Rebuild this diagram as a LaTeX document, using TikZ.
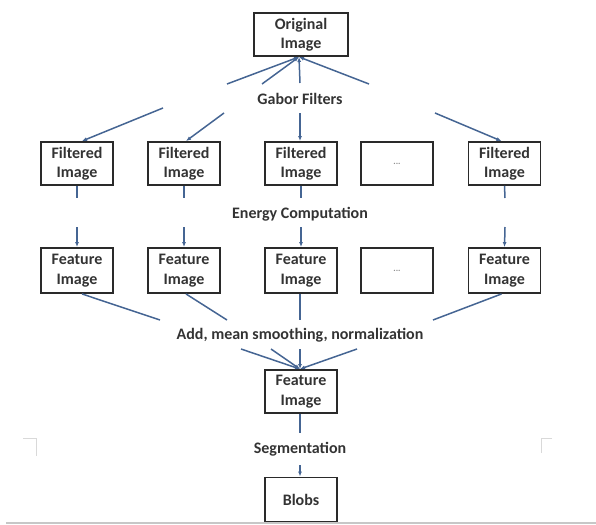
\documentclass[tikz,border=0pt]{standalone}
\usepackage{fontspec}
\setmainfont{Carlito}
\usetikzlibrary{arrows.meta,calc}
\definecolor{conn}{HTML}{456593}
\definecolor{txt}{HTML}{333333}
\definecolor{boxline}{HTML}{2A2A2A}
\begin{document}
\begin{tikzpicture}[x=1pt,y=-1pt,
  box/.style={draw=boxline,line width=1.9pt,minimum width=72pt,minimum height=43pt,
    inner sep=0pt,align=center,text=txt,font=\fontsize{16}{19.5}\selectfont\bfseries},
  dots/.style={box,font=\fontsize{9}{10}\selectfont\bfseries,text=black!45},
  lbl/.style={inner sep=0pt,text=txt,font=\fontsize{16}{19.5}\selectfont\bfseries},
  conline/.style={draw=conn,line width=1.5pt},
  conarrow/.style={conline,-{Latex[length=5pt,width=4pt]}},
  faint/.style={draw=black!15,line width=1.2pt}]
\useasboundingbox (0,0) rectangle (596,524);
% nodes
\node[box,minimum width=94pt] (orig) at (301,34.5) {Original\\Image};
\node[lbl] (gabor) at (300,99) {Gabor Filters};
\node[box] (f1) at (77,163.5) {Filtered\\Image};
\node[box] (f2) at (184,163.5) {Filtered\\Image};
\node[box] (f3) at (301,163.5) {Filtered\\Image};
\node[dots] (f4) at (397,163.5) {...};
\node[box] (f5) at (504.5,163.5) {Filtered\\Image};
\node[lbl] (energy) at (300,214) {Energy Computation};
\node[box,minimum height=45pt] (e1) at (77,270.5) {Feature\\Image};
\node[box,minimum height=45pt] (e2) at (184,270.5) {Feature\\Image};
\node[box,minimum height=45pt] (e3) at (301,270.5) {Feature\\Image};
\node[dots,minimum height=45pt] (e4) at (397,270.5) {...};
\node[box,minimum height=45pt] (e5) at (504.5,270.5) {Feature\\Image};
\node[lbl] (add) at (300,335) {Add, mean smoothing, normalization};
\node[box] (fin) at (301,391.5) {Feature\\Image};
\node[lbl] (seg) at (300,449) {Segmentation};
\node[box,minimum height=44pt] (blobs) at (301,499.5) {Blobs};
% free ends
\coordinate (ga1) at (227,84);
\coordinate (ga2) at (262,84);
\coordinate (ga3) at (300,83);
\coordinate (ga4) at (369,84);
\coordinate (gb1) at (163,108);
\coordinate (gb2) at (224,113);
\coordinate (gb3) at (300,113);
\coordinate (gb5) at (435,113);
\coordinate (ea1) at (77,198);
\coordinate (ea2) at (184,198);
\coordinate (ea3) at (301,198);
\coordinate (ea5) at (505,198);
\coordinate (eb1) at (77,227);
\coordinate (eb2) at (184,227);
\coordinate (eb3) at (301,227);
\coordinate (eb5) at (505,227);
\coordinate (aa1) at (160,320);
\coordinate (aa2) at (227,320);
\coordinate (aa3) at (300,320);
\coordinate (aa5) at (433,320);
\coordinate (ab1) at (241,349);
\coordinate (ab2) at (271,349);
\coordinate (ab3) at (300,349);
\coordinate (ab4) at (357,349);
\coordinate (sa) at (300,433);
\coordinate (sb) at (300,465);
% connectors: Gabor filters
\foreach \c in {ga1,ga2,ga3,ga4}
  \draw[conarrow] (\c) -- ($(orig.south)+(-2,0)$);
\draw[conarrow] (gb1) -- ($(f1.north)+(5,0)$);
\draw[conarrow] (gb2) -- ($(f2.north)+(2,0)$);
\draw[conarrow] (gb3) -- ($(f3.north)+(-1,0)$);
\draw[conarrow] (gb5) -- ($(f5.north)+(-3,0)$);
% energy computation
\draw[conline] (f1.south) -- (ea1);
\draw[conline] (f2.south) -- (ea2);
\draw[conline] (f3.south) -- (ea3);
\draw[conline] (f5.south) -- (ea5);
\draw[conarrow] (eb1) -- (e1.north);
\draw[conarrow] (eb2) -- (e2.north);
\draw[conarrow] (eb3) -- (e3.north);
\draw[conarrow] (eb5) -- (e5.north);
% add
\draw[conline] ($(e1.south)+(5,0)$) -- (aa1);
\draw[conline] ($(e2.south)+(2,0)$) -- (aa2);
\draw[conline] ($(e3.south)+(-1,0)$) -- (aa3);
\draw[conline] ($(e5.south)+(-3,0)$) -- (aa5);
\foreach \c in {ab1,ab2,ab3,ab4}
  \draw[conarrow] (\c) -- ($(fin.north)+(-1,0)$);
% segmentation
\draw[conline] ($(fin.south)+(-1,0)$) -- (sa);
\draw[conarrow] (sb) -- ($(blobs.north)+(-1,0)$);
% faint page marks
\draw[faint] (23,438.5) -- (36.5,438.5) -- (36.5,456);
\draw[faint] (552,438.5) -- (541.5,438.5) -- (541.5,453);
\draw[draw=black!22,line width=1.5pt] (6,522.8) -- (596,522.8);
\end{tikzpicture}
\end{document}
